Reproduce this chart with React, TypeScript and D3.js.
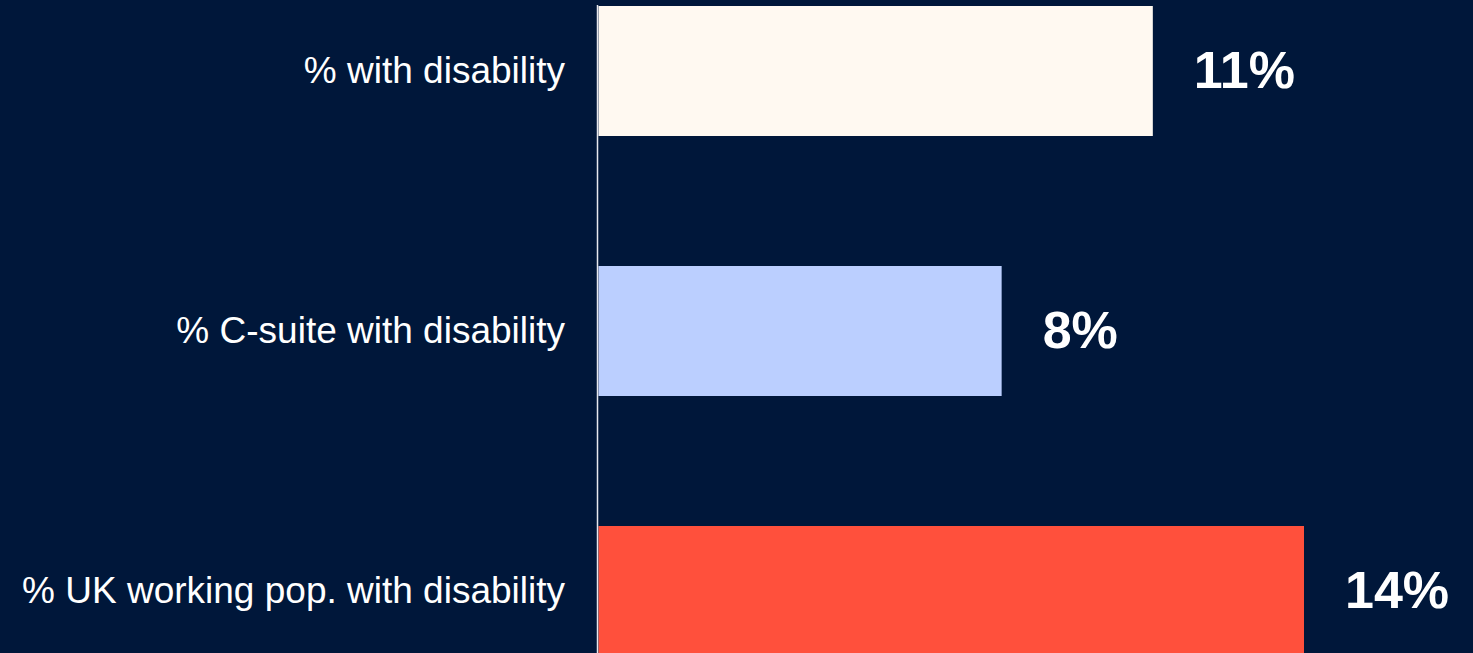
import React from "react";
import * as d3 from "d3";

const categories: string[] = [
  "% with disability",
  "% C-suite with disability",
  "% UK working pop. with disability",
];
const values: number[] = [11, 8, 14];
const valueLabels: string[] = ["11%", "8%", "14%"];
const barColors: string[] = ["#FFF9F1", "#BBCFFF", "#FF503C"];

const W = 1473;
const H = 653;
const BG = "#00173A";

export default function App() {
  const x = d3.scaleLinear().domain([0, 14]).range([598.5, 1304]);
  const y = d3
    .scaleBand<string>()
    .domain(categories)
    .range([-59, 721])
    .paddingInner(0.5)
    .paddingOuter(0.25);

  const font = "'Liberation Sans', Arial, Helvetica, sans-serif";

  return (
    <svg
      width={W}
      height={H}
      style={{ position: "absolute", left: 0, top: 0, display: "block", background: BG }}
    >
      <rect x={0} y={0} width={W} height={H} fill={BG} />
      {categories.map((c, i) => {
        const y0 = y(c)!;
        const cy = y0 + y.bandwidth() / 2;
        return (
          <g key={c}>
            <rect
              x={x(0)}
              y={y0}
              width={x(values[i]) - x(0)}
              height={y.bandwidth()}
              fill={barColors[i]}
            />
            <text
              x={565}
              y={cy + 12}
              textAnchor="end"
              fill="#FFFFFF"
              fontFamily={font}
              fontSize={37}
            >
              {c}
            </text>
            <text
              x={x(values[i]) + 41}
              y={cy + 17}
              textAnchor="start"
              fill="#FFFFFF"
              fontFamily={font}
              fontWeight="bold"
              fontSize={52}
            >
              {valueLabels[i]}
            </text>
          </g>
        );
      })}
      <line
        x1={597.5}
        x2={597.5}
        y1={5}
        y2={H}
        stroke="#E6E8EE"
        strokeWidth={1.5}
      />
    </svg>
  );
}
